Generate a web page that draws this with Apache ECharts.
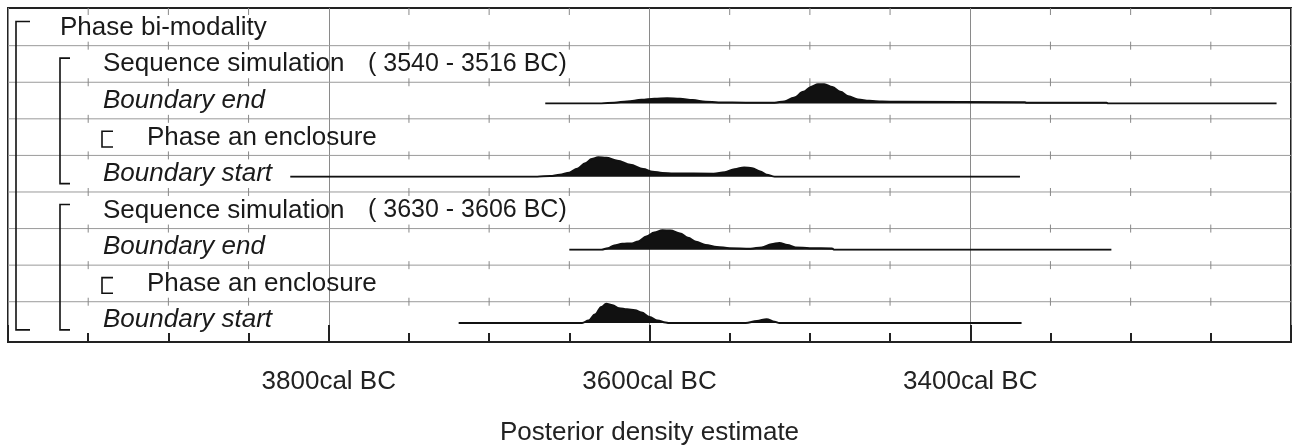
<!DOCTYPE html>
<html><head><meta charset="utf-8">
<script src="https://cdn.jsdelivr.net/npm/echarts@6/dist/echarts.min.js"></script>
<style>html,body{margin:0;padding:0;background:#fff}#c{width:1292px;height:446px}</style>
</head><body><div id="c"></div>
<script>
// ---- data ----
const rowLabels = ['Phase bi-modality','Sequence simulation','Boundary end','Phase an enclosure','Boundary start','Sequence simulation','Boundary end','Phase an enclosure','Boundary start'];
const rowItalic = [false,false,true,false,true,false,true,false,true];
const rowRanges = ['','( 3540 - 3516 BC)','','','','( 3630 - 3606 BC)','','',''];
const rowLevel  = [0,1,1,2,1,1,1,2,1];
const xTickLabels = [3800, 3600, 3400];
// brackets: [firstRow, lastRow, level]
const brackets = [[0,8,0],[1,4,1],[5,8,1],[3,3,2],[7,7,2]];
// densities [year BC, relative density]
const g1End = [[3665,0],[3630,0],[3622,0.04],[3614,0.1],[3605,0.18],[3597,0.24],[3589,0.26],[3581,0.24],[3573,0.17],[3565,0.09],[3557,0.05],[3540,0.04],[3522,0.04],[3516,0.1],[3510,0.28],[3504,0.58],[3499,0.84],[3495,0.96],[3491,0.96],[3486,0.82],[3481,0.58],[3476,0.36],[3470,0.2],[3463,0.13],[3455,0.1],[3445,0.08],[3366,0.06],[3365,0.035],[3315,0.035],[3314,0],[3209,0]];
const g1Start = [[3824,0],[3670,0],[3662,0.03],[3656,0.09],[3650,0.2],[3645,0.4],[3640,0.67],[3636,0.88],[3632,0.97],[3627,0.94],[3620,0.8],[3612,0.6],[3604,0.38],[3598,0.25],[3592,0.18],[3585,0.16],[3560,0.15],[3553,0.22],[3547,0.37],[3541,0.46],[3536,0.42],[3531,0.26],[3527,0.1],[3522,0],[3369,0]];
const g2End = [[3650,0],[3630,0],[3626,0.08],[3622,0.22],[3617,0.3],[3611,0.32],[3607,0.42],[3602,0.66],[3597,0.86],[3592,0.98],[3587,0.96],[3581,0.82],[3576,0.6],[3571,0.4],[3565,0.24],[3558,0.14],[3550,0.08],[3537,0.05],[3530,0.12],[3524,0.28],[3519,0.34],[3514,0.24],[3509,0.12],[3500,0.08],[3486,0.07],[3485,0],[3312,0]];
const g2Start = [[3719,0],[3642,0],[3638,0.12],[3634,0.42],[3630,0.8],[3627,0.96],[3623,0.88],[3619,0.74],[3614,0.68],[3609,0.64],[3605,0.52],[3600,0.3],[3595,0.12],[3590,0.02],[3588,0],[3540,0],[3533,0.1],[3527,0.19],[3522,0.06],[3519,0],[3368,0]];
const densities = [g1End, g1Start, g2End, g2Start];
const densityRows = [2,4,6,8];

// ---- layout ----
const W = 1292, H = 446;
const GL = 8, GR = 1, GT = 8, GB = 104;
const YMIN = -0.03, YMAX = 9.101;
const pxPerRow = (H - GT - GB) / (YMAX - YMIN);
const rowPx = v => GT + (v - YMIN) * pxPerRow;
const DH = 20;
const FONT = '"Liberation Sans", Arial, Helvetica, sans-serif';
const XMIN = 3200, XMAX = 4000;
const minorYears = [];
for (let y = XMIN + 50; y < XMAX; y += 50) if (y % 200 !== 0) minorYears.push(y);

const grids = [{left: GL, right: GR, top: GT, bottom: GB, show: true, borderColor: '#222', borderWidth: 2, outerBoundsMode: 'none', containLabel: false}];
const xAxes = [{
  type: 'value', min: XMIN, max: XMAX, inverse: true, interval: 200, gridIndex: 0,
  axisLine: {show: true, onZero: false, lineStyle: {color: '#222', width: 2}},
  axisTick: {show: true, inside: true, length: 17, lineStyle: {color: '#222', width: 2}},
  minorTick: {show: true, splitNumber: 4, length: 9, lineStyle: {color: '#222', width: 2}},
  splitLine: {show: true, lineStyle: {color: '#8a8a8a', width: 1}},
  axisLabel: {
    fontSize: 26, fontFamily: FONT, color: '#222', margin: 27,
    showMinLabel: false, showMaxLabel: false,
    formatter: v => xTickLabels.indexOf(v) >= 0 ? v + 'cal BC' : ''
  },
  name: 'Posterior density estimate', nameLocation: 'middle', nameGap: 78,
  nameTextStyle: {fontSize: 26, fontFamily: FONT, color: '#222'}
}];
const yAxes = [{type: 'value', min: YMIN, max: YMAX, inverse: true, show: false, gridIndex: 0}];
densityRows.forEach((r, k) => {
  const base = rowPx(r + 0.58);
  grids.push({left: GL, right: GR, top: base - DH, height: DH, outerBoundsMode: 'none', containLabel: false});
  xAxes.push({type: 'value', min: XMIN, max: XMAX, inverse: true, show: false, gridIndex: k + 1});
  yAxes.push({type: 'value', min: 0, max: 1, show: false, gridIndex: k + 1});
});

const series = [];
// horizontal grid lines with short ticks
series.push({
  type: 'custom', xAxisIndex: 0, yAxisIndex: 0, silent: true, z: 1,
  data: [0,1,2,3,4,5,6,7,8],
  renderItem(params, api) {
    const r = api.value(0);
    const a = api.coord([XMAX, r]);
    const b = api.coord([XMIN, r]);
    const children = [];
    if (r > 0) {
      children.push({type: 'line', shape: {x1: a[0], y1: a[1], x2: b[0], y2: b[1]}, style: {stroke: '#9a9a9a', lineWidth: 1}});
      minorYears.forEach(yr => {
        const p = api.coord([yr, r]);
        children.push({type: 'line', shape: {x1: p[0], y1: p[1] - 4, x2: p[0], y2: p[1] + 4}, style: {stroke: '#888', lineWidth: 1}});
      });
    } else {
      minorYears.forEach(yr => {
        const p = api.coord([yr, YMIN]);
        children.push({type: 'line', shape: {x1: p[0], y1: p[1], x2: p[0], y2: p[1] + 7}, style: {stroke: '#888', lineWidth: 1}});
      });
    }
    return {type: 'group', children};
  }
});
// brackets
const bracketX = [16, 60, 102], bracketArm = [14, 10, 11];
series.push({
  type: 'custom', xAxisIndex: 0, yAxisIndex: 0, silent: true, z: 3,
  data: brackets,
  renderItem(params, api) {
    const f = api.value(0), t = api.value(1), lv = api.value(2);
    const p1 = api.coord([XMAX, f + 0.34]);
    const p2 = api.coord([XMAX, t + 0.77]);
    const x = p1[0] + bracketX[lv] - GL, arm = bracketArm[lv];
    return {type: 'polyline', shape: {points: [[x + arm, p1[1]], [x, p1[1]], [x, p2[1]], [x + arm, p2[1]]]}, style: {stroke: '#111', lineWidth: 1.6, fill: null}};
  }
});
// row labels
const labelX = [60, 103, 147];
series.push({
  type: 'custom', xAxisIndex: 0, yAxisIndex: 0, silent: true, z: 4,
  data: rowLabels.map((s, i) => [i]),
  renderItem(params, api) {
    const r = api.value(0);
    const p = api.coord([XMAX, r + 0.67]);
    const children = [{type: 'text', style: {
      text: rowLabels[r], x: p[0] + labelX[rowLevel[r]] - GL, y: p[1] - 6,
      fontSize: 26, fontFamily: FONT, fontStyle: rowItalic[r] ? 'italic' : 'normal',
      fill: '#1a1a1a', align: 'left', verticalAlign: 'middle'}}];
    if (rowRanges[r]) children.push({type: 'text', style: {
      text: rowRanges[r], x: p[0] + 368 - GL, y: p[1] - 6,
      fontSize: 25, fontFamily: FONT, fill: '#1a1a1a', align: 'left', verticalAlign: 'middle'}});
    return {type: 'group', children};
  }
});
// densities
densities.forEach((d, k) => {
  series.push({
    type: 'line', xAxisIndex: k + 1, yAxisIndex: k + 1, data: d, symbol: 'none', silent: true,
    smooth: 0.35, smoothMonotone: 'x', z: 5,
    lineStyle: {color: '#111', width: 2}, areaStyle: {color: '#111', opacity: 1}
  });
});

const chart = echarts.init(document.getElementById('c'), null, {renderer: 'canvas'});
chart.setOption({animation: false, backgroundColor: '#fff', grid: grids, xAxis: xAxes, yAxis: yAxes, series});
</script></body></html>
